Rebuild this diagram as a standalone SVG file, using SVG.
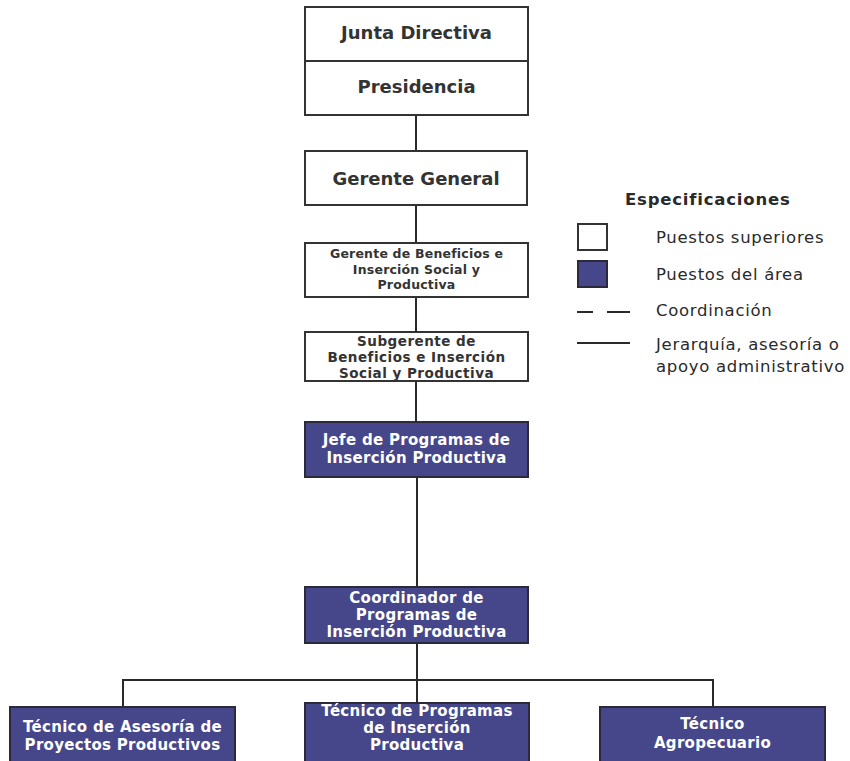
<svg xmlns="http://www.w3.org/2000/svg" width="850" height="761" viewBox="0 0 850 761">
<style>
text{font-family:"DejaVu Sans",Verdana,sans-serif;}
.box{fill:#ffffff;stroke:#333333;stroke-width:2;}
.area{fill:#46468a;stroke:#2a2a3a;stroke-width:2;}
.t{font-weight:bold;fill:#333333;text-anchor:middle;}
.w{font-weight:bold;fill:#ffffff;text-anchor:middle;font-size:15px;letter-spacing:0.3px;}
.c{fill:none;stroke:#2a2a2a;stroke-width:2;}
.lg{fill:#2a2a2a;font-size:16.5px;letter-spacing:0.7px;}
</style>
<rect width="850" height="761" fill="#ffffff"/>
<g id="connectors">
<line class="c" x1="416" y1="115" x2="416" y2="151"/>
<line class="c" x1="416" y1="205" x2="416" y2="243"/>
<line class="c" x1="416" y1="297" x2="416" y2="332"/>
<line class="c" x1="416" y1="381" x2="416" y2="422"/>
<line class="c" x1="417" y1="477" x2="417" y2="587"/>
<line class="c" x1="417" y1="643" x2="417" y2="680"/>
<polyline class="c" points="123,707 123,680 713,680 713,707"/>
<line class="c" x1="417" y1="680" x2="417" y2="703"/>
</g>
<g id="junta">
<rect class="box" x="305" y="7" width="223" height="54"/>
<text class="t" x="416.5" y="39" font-size="18">Junta Directiva</text>
</g>
<g id="presidencia">
<rect class="box" x="305" y="61" width="223" height="54"/>
<text class="t" x="416.5" y="93" font-size="18">Presidencia</text>
</g>
<g id="gerente-general">
<rect class="box" x="305" y="151" width="222" height="54"/>
<text class="t" x="416" y="185" font-size="18">Gerente General</text>
</g>
<g id="gerente-beneficios">
<rect class="box" x="305" y="243" width="223" height="54"/>
<text class="t" font-size="12.5" letter-spacing="0.2"><tspan x="416.5" y="258">Gerente de Beneficios e</tspan><tspan x="416.5" y="273.5">Inserción Social y</tspan><tspan x="416.5" y="289">Productiva</tspan></text>
</g>
<g id="subgerente">
<rect class="box" x="305" y="332" width="223" height="49"/>
<text class="t" font-size="13.5" letter-spacing="0.5"><tspan x="416.5" y="346">Subgerente de</tspan><tspan x="416.5" y="362">Beneficios e Inserción</tspan><tspan x="416.5" y="378">Social y Productiva</tspan></text>
</g>
<g id="jefe">
<rect class="area" x="305" y="422" width="223" height="55"/>
<text class="w"><tspan x="416.5" y="445">Jefe de Programas de</tspan><tspan x="416.5" y="463">Inserción Productiva</tspan></text>
</g>
<g id="coordinador">
<rect class="area" x="305" y="587" width="223" height="56"/>
<text class="w"><tspan x="416.5" y="603">Coordinador de</tspan><tspan x="416.5" y="620">Programas de</tspan><tspan x="416.5" y="637">Inserción Productiva</tspan></text>
</g>
<g id="tecnico-asesoria">
<rect class="area" x="10" y="707" width="225" height="60"/>
<text class="w"><tspan x="122.5" y="732">Técnico de Asesoría de</tspan><tspan x="122.5" y="750">Proyectos Productivos</tspan></text>
</g>
<g id="tecnico-programas">
<rect class="area" x="305" y="703" width="224" height="64"/>
<text class="w"><tspan x="417" y="716">Técnico de Programas</tspan><tspan x="417" y="733">de Inserción</tspan><tspan x="417" y="750">Productiva</tspan></text>
</g>
<g id="tecnico-agropecuario">
<rect class="area" x="600" y="707" width="225" height="60"/>
<text class="w"><tspan x="712.5" y="729">Técnico</tspan><tspan x="712.5" y="748">Agropecuario</tspan></text>
</g>
<g id="legend">
<text x="625" y="205" font-size="16.5" font-weight="bold" fill="#2a2a2a" letter-spacing="0.8">Especificaciones</text>
<rect class="box" x="578" y="224" width="29" height="26"/>
<text class="lg" x="656" y="243">Puestos superiores</text>
<rect class="area" x="578" y="261" width="29" height="26"/>
<text class="lg" x="656" y="280">Puestos del área</text>
<line class="c" x1="577" y1="312" x2="593" y2="312"/>
<line class="c" x1="607" y1="312" x2="630" y2="312"/>
<text class="lg" x="656" y="316">Coordinación</text>
<line class="c" x1="577" y1="343" x2="630" y2="343"/>
<text class="lg" x="656" y="350">Jerarquía, asesoría o</text>
<text class="lg" x="656" y="372">apoyo administrativo</text>
</g>
</svg>
